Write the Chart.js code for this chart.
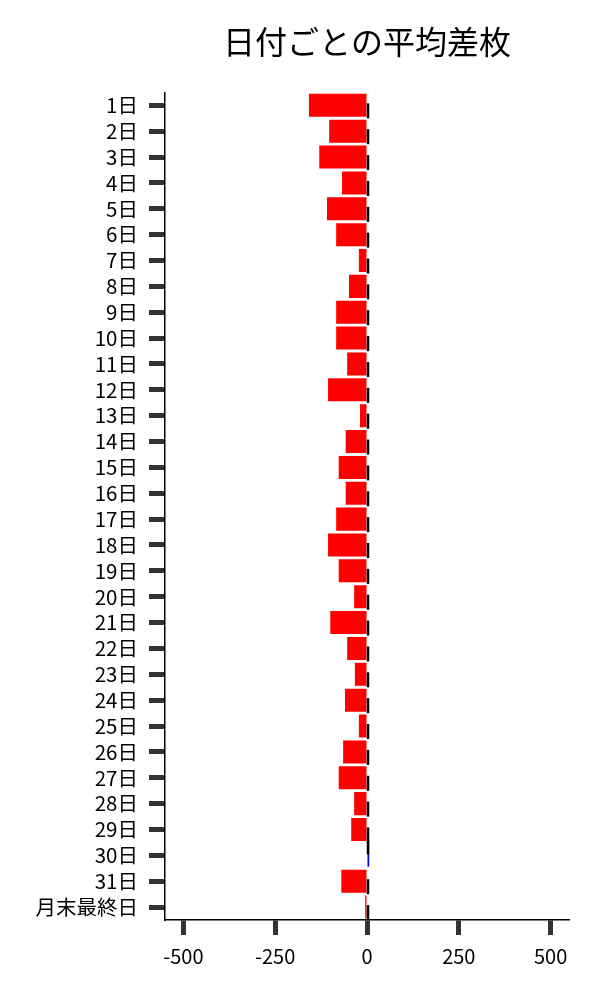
<!DOCTYPE html>
<html>
<head>
<meta charset="utf-8">
<script src="https://cdn.jsdelivr.net/npm/chart.js@4"></script>
<style>
    body { margin: 0; background: #fff; }
    #grafico { display: block; }
</style>
</head>
<body>
<canvas id="grafico" width="600" height="1000"></canvas>
<script>
const dias = [
    "1日", "2日", "3日", "4日", "5日", "6日", "7日", "8日", "9日", "10日",
    "11日", "12日", "13日", "14日", "15日", "16日", "17日", "18日", "19日", "20日",
    "21日", "22日", "23日", "24日", "25日", "26日", "27日", "28日", "29日", "30日",
    "31日", "月末最終日"
];

const mediaDiferenca = [
    -158, -103, -130, -68, -109, -84, -22, -49, -84, -84,
    -54, -106, -19, -58, -77, -58, -84, -106, -77, -35,
    -100, -54, -33, -60, -22, -65, -77, -35, -43, 6,
    -70, -5
];

const ticksX = [-500, -250, 0, 250, 500];

const fonte = "'Noto Sans CJK JP', 'Noto Sans', sans-serif";

// marquinhas pretas no zero de cada barra
const marcaZero = {
    id: "marcaZero",
    afterDatasetsDraw(chart) {
        const ctx = chart.ctx;
        const x = chart.scales.x.getPixelForValue(0) + 1;
        const y = chart.scales.y;

        ctx.save();
        ctx.strokeStyle = "#000";
        ctx.lineWidth = 2.5;

        for (let i = 0; i < mediaDiferenca.length; i++) {
            const yc = y.getPixelForValue(i);
            const ini = mediaDiferenca[i] > 0 ? yc - 16 : yc - 2;

            ctx.beginPath();
            ctx.moveTo(x, ini);
            ctx.lineTo(x, ini + 15);
            ctx.stroke();
        }

        ctx.restore();
    }
};

new Chart(document.getElementById("grafico"), {
    type: "bar",
    data: {
        labels: dias,
        datasets: [{
            label: "平均差枚",
            data: mediaDiferenca,
            backgroundColor: mediaDiferenca.map(v => v < 0 ? "#ff0000" : "#0000cc"),
            borderWidth: 0,
            barPercentage: 0.89,
            categoryPercentage: 1
        }]
    },
    options: {
        indexAxis: "y",
        responsive: false,
        animation: false,
        layout: {
            padding: { left: 0, right: 31, top: 0, bottom: 0 }
        },
        plugins: {
            legend: { display: false },
            tooltip: { enabled: false },
            title: {
                display: true,
                text: "日付ごとの平均差枚",
                fullSize: false,
                color: "#000",
                font: { family: fonte, size: 32, weight: "normal", lineHeight: 1.2 },
                padding: { top: 23, bottom: 31 }
            }
        },
        scales: {
            x: {
                min: -550,
                max: 550,
                afterBuildTicks: (scale) => {
                    scale.ticks = ticksX.map(v => ({ value: v }));
                },
                afterFit: (scale) => {
                    scale.height = 80;
                },
                border: { display: true, color: "#000", width: 1.5 },
                grid: {
                    drawOnChartArea: false,
                    drawTicks: true,
                    tickLength: 15,
                    tickWidth: 5,
                    tickColor: "#333"
                },
                ticks: {
                    color: "#000",
                    padding: 9,
                    font: { family: fonte, size: 20 }
                }
            },
            y: {
                afterFit: (scale) => {
                    scale.width = 165;
                },
                border: { display: true, color: "#000", width: 1.5 },
                grid: {
                    offset: false,
                    drawOnChartArea: false,
                    drawTicks: true,
                    tickLength: 16,
                    tickWidth: 5,
                    tickColor: "#333"
                },
                ticks: {
                    color: "#000",
                    padding: 11,
                    autoSkip: false,
                    font: { family: fonte, size: 20.5 }
                }
            }
        }
    },
    plugins: [marcaZero]
});
</script>
</body>
</html>
